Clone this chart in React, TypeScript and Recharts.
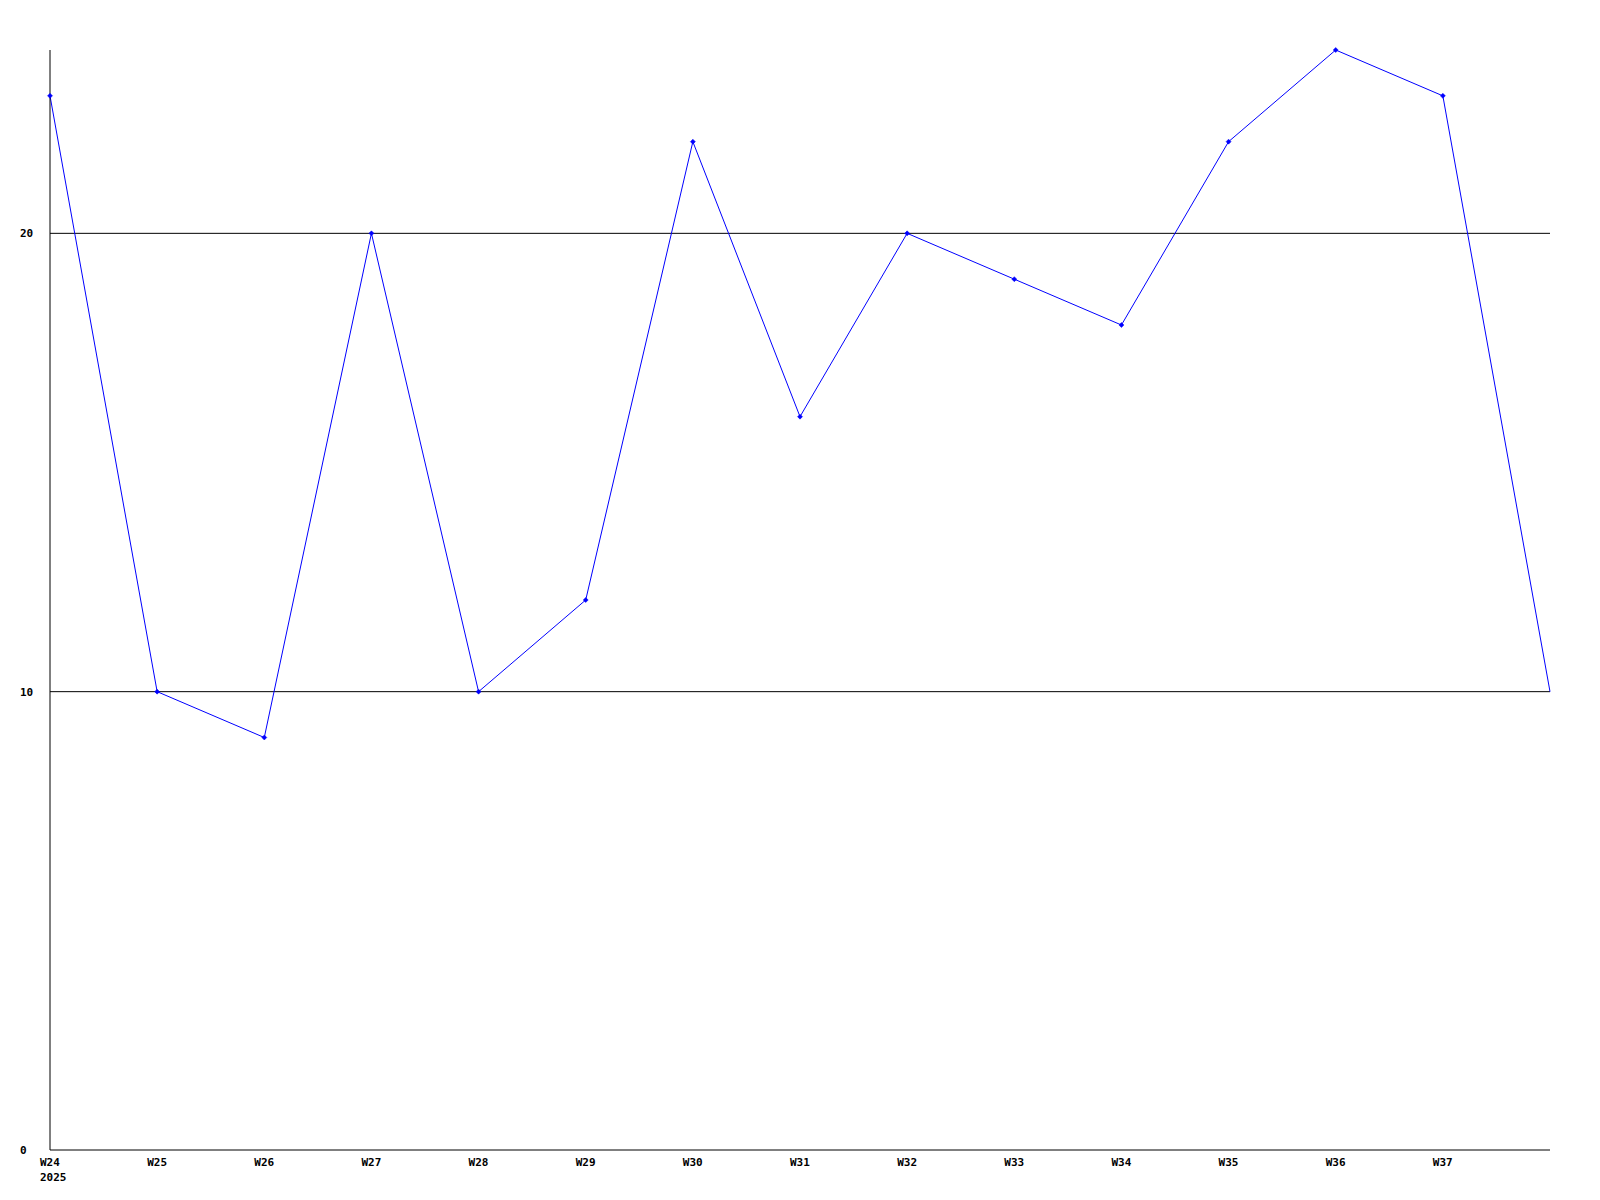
import React from "react";
import { LineChart, Line, XAxis, YAxis, CartesianGrid } from "recharts";

const weeks = ["W24", "W25", "W26", "W27", "W28", "W29", "W30", "W31", "W32", "W33", "W34", "W35", "W36", "W37", "W38"];
const values = [23, 10, 9, 20, 10, 12, 22, 16, 20, 19, 18, 22, 24, 23, 10];
const yTicks = [0, 10, 20];
const yearLabel = "2025";

const data = weeks.map((w, i) => ({ week: w, value: values[i] }));

const FONT = "'DejaVu Sans Mono', 'Liberation Mono', monospace";

const XTick = (props: any) => {
  const { x, y, payload, index } = props;
  if (index === weeks.length - 1) return null;
  return (
    <g>
      <text x={x - 10} y={y + 8} fontFamily={FONT} fontWeight="bold" fontSize={11} fill="#000" textAnchor="start">
        {payload.value}
      </text>
      {index === 0 && (
        <text x={x - 10} y={y + 23} fontFamily={FONT} fontWeight="bold" fontSize={11} fill="#000" textAnchor="start">
          {yearLabel}
        </text>
      )}
    </g>
  );
};

const YTick = (props: any) => {
  const { y, payload } = props;
  return (
    <text x={20} y={y + 4} fontFamily={FONT} fontWeight="bold" fontSize={11} fill="#000" textAnchor="start">
      {payload.value}
    </text>
  );
};

const Dot = (props: any) => {
  const { cx, cy, index } = props;
  if (index === weeks.length - 1 || cx == null || cy == null) return <g key={index} />;
  return (
    <path
      key={index}
      d={`M${cx - 2.5},${cy} L${cx},${cy - 2.5} L${cx + 2.5},${cy} L${cx},${cy + 2.5} Z`}
      fill="#0000ff"
      stroke="#0000ff"
      strokeWidth={0.5}
    />
  );
};

export default function App() {
  return (
    <div style={{ position: "absolute", left: 0, top: 0, width: 1600, height: 1200, background: "#fff" }}>
      <LineChart width={1600} height={1200} data={data} margin={{ top: 50, right: 50, bottom: 0, left: 0 }}>
        <CartesianGrid vertical={false} stroke="#000" strokeDasharray="" horizontalValues={[10, 20]} />
        <XAxis
          dataKey="week"
          height={50}
          tick={<XTick />}
          tickLine={false}
          axisLine={{ stroke: "#000" }}
          interval={0}
          padding={{ left: 0, right: 0 }}
        />
        <YAxis
          width={50}
          domain={[0, 24]}
          ticks={yTicks}
          tick={<YTick />}
          tickLine={false}
          axisLine={{ stroke: "#000" }}
        />
        <Line
          type="linear"
          dataKey="value"
          stroke="#0000ff"
          strokeWidth={1}
          dot={<Dot />}
          activeDot={false}
          isAnimationActive={false}
        />
      </LineChart>
    </div>
  );
}
